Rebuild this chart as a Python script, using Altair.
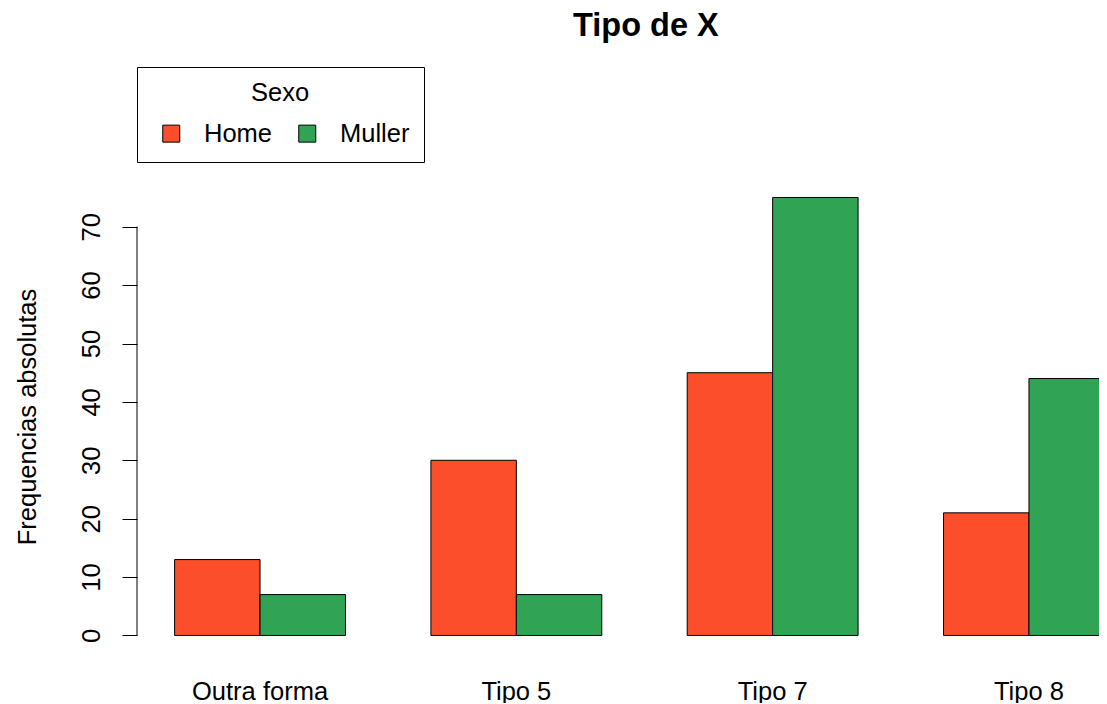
import altair as alt
import pandas as pd

categories = ["Outra forma", "Tipo 5", "Tipo 7", "Tipo 8"]
sexes = ["Home", "Muller"]
home = [13, 30, 45, 21]
muller = [7, 7, 75, 44]
colors = ["#FC4E2A", "#31A354"]
y_ticks = [0, 10, 20, 30, 40, 50, 60, 70]

rows = []
for c, h, m in zip(categories, home, muller):
    rows.append({"Tipo": c, "Sexo": sexes[0], "n": h})
    rows.append({"Tipo": c, "Sexo": sexes[1], "n": m})
df = pd.DataFrame(rows)
axis_df = pd.DataFrame({"lo": [y_ticks[0]], "hi": [y_ticks[-1]]})

FONT = "Liberation Sans"
FS = 25.5

x_scale = alt.Scale(domain=categories, range=[0, 1015], paddingInner=1 / 3, paddingOuter=0.1467)
y_scale = alt.Scale(domain=[-3, 78], nice=False, zero=False)

y_axis = alt.Axis(values=y_ticks, title="Frequencias absolutas", grid=False, domain=False,
                  tickSize=15, tickColor="black", tickWidth=1,
                  labelAngle=270, labelAlign="center", labelBaseline="bottom",
                  labelPadding=18, labelFontSize=FS, labelFont=FONT, labelColor="black",
                  titleFont=FONT, titleFontSize=FS, titleFontWeight="normal",
                  titleColor="black", titleAngle=270, titleAlign="center",
                  titleBaseline="bottom", titleX=-97, titleY=236.5)

bars = alt.Chart(df).mark_bar(stroke="black", strokeWidth=1).encode(
    x=alt.X("Tipo:N", scale=x_scale, sort=categories,
            axis=alt.Axis(title=None, labelAngle=0, domain=False, ticks=False,
                          labelFontSize=FS, labelFont=FONT, labelColor="black",
                          labelPadding=26, labelBaseline="top")),
    xOffset=alt.XOffset("Sexo:N", sort=sexes, scale=alt.Scale(paddingInner=0, paddingOuter=0)),
    y=alt.Y("n:Q", scale=y_scale, axis=y_axis),
    color=alt.Color("Sexo:N", scale=alt.Scale(domain=sexes, range=colors),
                    legend=alt.Legend(title="Sexo", orient="none", legendX=0, legendY=-113,
                                      direction="horizontal", titleAnchor="middle",
                                      titleFont=FONT, titleFontSize=FS, titleFontWeight="normal",
                                      titleColor="black", titlePadding=14,
                                      labelFont=FONT, labelFontSize=FS, labelColor="black",
                                      labelOffset=20, symbolType="square", symbolSize=289,
                                      symbolOffset=7.5, symbolStrokeColor="black",
                                      symbolStrokeWidth=1, symbolOpacity=1, columnPadding=14,
                                      padding=14, strokeColor="black", fillColor="white")),
)

rule = alt.Chart(axis_df).mark_rule(color="black", strokeWidth=1).encode(
    x=alt.value(0),
    y=alt.Y("lo:Q", scale=y_scale, axis=y_axis),
    y2="hi:Q",
)

chart = alt.layer(bars, rule).properties(
    width=962,
    height=473,
    padding={"left": 129, "top": 172, "right": 0, "bottom": 50},
    autosize=alt.AutoSizeParams(type="none"),
    title=alt.Title("Tipo de X", font=FONT, fontSize=32.5, fontWeight="bold", color="black",
                    anchor="start", frame="group", dx=436, offset=24),
).configure_view(stroke=None)

chart.save("out.html", embed_options={"renderer": "svg", "actions": False})
